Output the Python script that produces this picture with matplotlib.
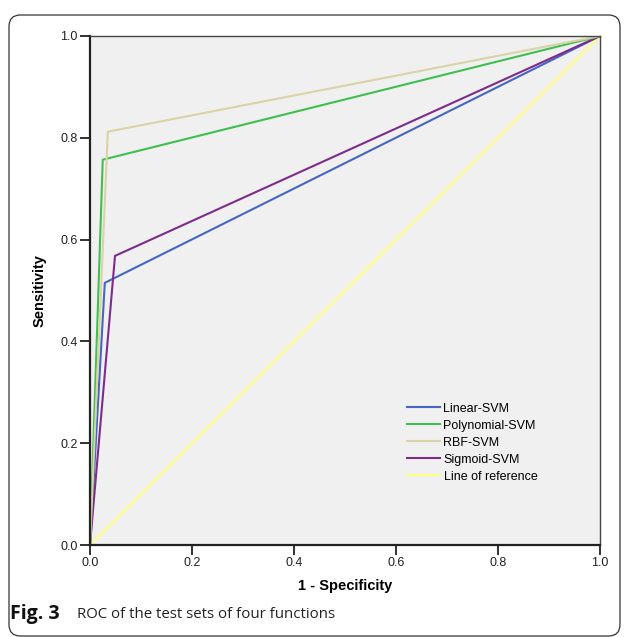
import matplotlib.pyplot as plt
from matplotlib.patches import FancyBboxPatch

# ROC points (1 - specificity, sensitivity)
linear_fpr = [0.0, 0.029, 1.0]
linear_tpr = [0.0, 0.515, 1.0]
poly_fpr = [0.0, 0.025, 1.0]
poly_tpr = [0.0, 0.757, 1.0]
rbf_fpr = [0.0, 0.035, 1.0]
rbf_tpr = [0.0, 0.812, 1.0]
sigmoid_fpr = [0.0, 0.049, 1.0]
sigmoid_tpr = [0.0, 0.568, 1.0]
ref_line = [0.0, 1.0]

labels = ['Linear-SVM', 'Polynomial-SVM', 'RBF-SVM', 'Sigmoid-SVM', 'Line of reference']
colors = ['#4566c2', '#3fbf4f', '#d9d3a6', '#7d2c8c', '#ffff80']
ticks = [0.0, 0.2, 0.4, 0.6, 0.8, 1.0]

plt.rcParams['font.family'] = ['Liberation Sans', 'DejaVu Sans']

fig = plt.figure(figsize=(6.29, 6.37), dpi=100)
# rounded frame around chart and caption
fig.patches.append(FancyBboxPatch((9 / 629, 1 / 637), 611 / 629, (637 - 15 - 1) / 637,
                                  boxstyle='round,pad=0,rounding_size=0.018',
                                  transform=fig.transFigure, fill=False,
                                  edgecolor='#333333', linewidth=0.9))

ax = fig.add_axes([90 / 629, 1 - 545 / 637, 510 / 629, 509 / 637])
ax.set_facecolor('#f0f0f0')

series = [(linear_fpr, linear_tpr), (poly_fpr, poly_tpr), (rbf_fpr, rbf_tpr),
          (sigmoid_fpr, sigmoid_tpr), (ref_line, ref_line)]
handles = [None] * 5
for i in [4, 0, 3, 1, 2]:
    x, y = series[i]
    handles[i], = ax.plot(x, y, color=colors[i], linewidth=1.5, label=labels[i])

ax.set_xlim(0, 1)
ax.set_ylim(0, 1)
ax.set_xticks(ticks)
ax.set_yticks(ticks)
ax.set_xticklabels([f'{t:.1f}' for t in ticks])
ax.set_yticklabels([f'{t:.1f}' for t in ticks])
ax.tick_params(direction='out', length=7, width=1.3, labelsize=9, colors='#222222', pad=2)
for side in ['left', 'bottom']:
    ax.spines[side].set_linewidth(1.6)
    ax.spines[side].set_color('#222222')
for side in ['top', 'right']:
    ax.spines[side].set_linewidth(1.0)
    ax.spines[side].set_color('#444444')

ax.set_xlabel('1 - Specificity', fontsize=10.5, fontweight='bold', labelpad=7)
ax.set_ylabel('Sensitivity', fontsize=10.5, fontweight='bold', labelpad=10)

ax.legend(handles=handles, loc='lower left', bbox_to_anchor=(0.6, 0.1),
          frameon=False, fontsize=9, handlelength=2.6, handletextpad=0.3,
          labelspacing=0.4)

cap_font = ['Open Sans', 'DejaVu Sans']
fig.text(10 / 629, 1 - 614 / 637, 'Fig. 3', fontsize=14, fontweight='bold', va='center',
         family=cap_font, color='#111111')
fig.text(77 / 629, 1 - 614 / 637, 'ROC of the test sets of four functions', fontsize=10.8,
         va='center', family=cap_font, color='#222222')

fig.savefig('out.png', dpi=100)
